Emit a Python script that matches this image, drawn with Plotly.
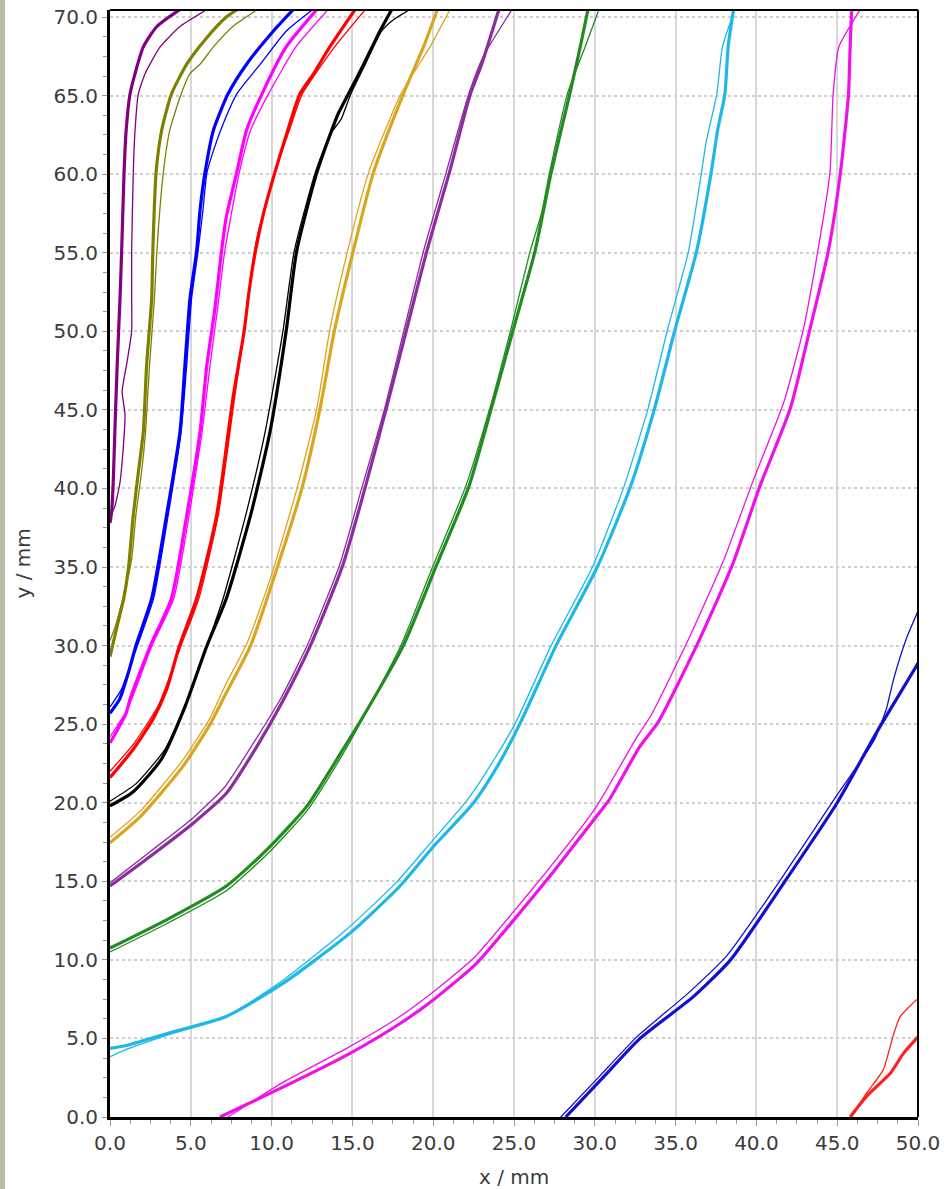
import plotly.graph_objects as go

# ---------------- data (x / mm, y / mm) ----------------
s1_thick_x = [0.0, 0.1, 0.2, 0.3, 0.45, 0.62, 0.72, 0.87, 1.0, 1.24, 1.55, 2.06, 2.9, 4.5]
s1_thick_y = [37.8, 38.5, 40.4, 43.6, 48.0, 52.1, 55.1, 60.1, 62.8, 65.1, 66.4, 68.1, 69.4, 70.6]
s1_thin_x = [0.0, 0.31, 0.62, 0.82, 0.93, 0.75, 1.03, 1.34, 1.34, 1.34, 1.44, 1.55, 1.75, 2.17, 3.1, 4.33, 6.2]
s1_thin_y = [38.2, 38.9, 40.4, 42.6, 44.7, 46.2, 47.9, 50.0, 52.1, 55.1, 60.1, 62.8, 65.1, 66.4, 68.1, 69.4, 70.6]

s2_thick_x = [0.0, 0.5, 0.85, 1.15, 1.44, 1.75, 2.06, 2.27, 2.58, 2.65, 2.85, 3.2, 3.8, 4.75, 6.0, 7.2, 8.05]
s2_thick_y = [29.3, 31.5, 33.0, 35.0, 38.3, 41.0, 43.6, 47.9, 52.1, 55.1, 60.1, 62.8, 65.1, 67.0, 68.7, 70.0, 70.6]
s2_thin_x = [0.0, 0.35, 0.8, 1.34, 1.6, 1.95, 2.2, 2.45, 2.75, 2.9, 3.3, 3.7, 4.4, 4.95, 5.57, 6.4, 7.6, 9.3]
s2_thin_y = [30.3, 31.3, 33.0, 35.5, 38.3, 41.0, 43.6, 47.9, 52.1, 55.1, 60.1, 62.8, 65.1, 66.4, 67.0, 68.1, 69.4, 70.6]

s3_thick_x = [0.0, 0.6, 1.2, 1.6, 2.58, 3.5, 4.33, 4.64, 4.95, 5.36, 5.57, 5.88, 6.4, 7.3, 8.45, 10.1, 11.45]
s3_thick_y = [25.7, 26.6, 28.5, 30.0, 33.0, 38.3, 43.6, 47.9, 52.1, 55.1, 57.7, 60.1, 62.8, 65.1, 67.0, 69.1, 70.6]
s3_thin_x = [0.0, 0.7, 1.7, 2.7, 3.6, 4.4, 4.75, 5.05, 5.45, 5.75, 6.0, 6.4, 7.0, 7.84, 9.3, 10.9, 12.7]
s3_thin_y = [26.1, 27.2, 30.0, 33.0, 38.3, 43.6, 47.9, 52.1, 55.1, 57.7, 60.1, 61.5, 63.2, 65.1, 67.0, 69.1, 70.6]

s4_thick_x = [0.0, 1.0, 1.24, 2.5, 3.8, 4.75, 5.57, 6.0, 6.5, 6.9, 7.2, 7.84, 8.45, 9.4, 10.9, 12.9]
s4_thick_y = [23.8, 25.7, 26.6, 30.0, 33.0, 38.3, 43.6, 47.9, 51.5, 55.1, 57.3, 60.1, 62.8, 65.1, 68.1, 70.6]
s4_thin_x = [0.0, 1.1, 2.6, 3.95, 4.9, 5.7, 6.2, 6.7, 7.1, 8.0, 8.7, 9.8, 11.5, 13.6]
s4_thin_y = [24.2, 26.0, 30.0, 33.0, 38.3, 43.6, 47.9, 51.8, 55.1, 60.1, 62.8, 65.1, 68.1, 70.6]

s5_thick_x = [0.0, 1.44, 2.7, 3.5, 4.3, 5.36, 6.6, 7.6, 8.3, 8.6, 9.0, 9.5, 10.2, 11.0, 11.75, 12.6, 13.6, 15.25]
s5_thick_y = [21.6, 23.4, 25.4, 27.2, 30.0, 33.0, 38.3, 45.7, 50.0, 52.5, 55.1, 57.5, 60.1, 62.8, 65.1, 66.4, 68.1, 70.6]
s5_thin_x = [0.0, 1.5, 3.0, 4.4, 5.5, 6.7, 7.7, 8.3, 8.7, 9.1, 10.2, 11.1, 11.9, 13.9, 15.9]
s5_thin_y = [22.0, 23.8, 26.2, 30.0, 33.0, 38.3, 45.7, 50.0, 53.5, 56.0, 60.1, 62.8, 65.1, 68.1, 70.6]

s6_thick_x = [0.0, 1.44, 3.2, 4.6, 6.0, 7.2, 8.7, 9.9, 10.9, 11.55, 12.8, 14.1, 14.75, 15.7, 16.7, 17.5]
s6_thick_y = [19.8, 20.7, 22.8, 26.0, 30.0, 33.0, 38.3, 43.6, 50.0, 55.1, 60.1, 63.8, 65.1, 67.0, 69.1, 70.6]
s6_thin_x = [0.0, 1.6, 3.4, 4.8, 6.1, 7.0, 8.4, 9.6, 10.7, 11.4, 12.7, 13.6, 14.3, 14.9, 15.8, 16.8, 17.5, 18.75]
s6_thin_y = [20.1, 21.2, 23.4, 26.6, 30.3, 33.0, 38.3, 43.6, 50.0, 55.1, 60.1, 62.5, 63.5, 65.1, 67.0, 69.1, 69.8, 70.6]

s7_thick_x = [0.0, 1.86, 4.5, 6.2, 7.2, 8.7, 10.2, 11.9, 13.0, 13.9, 15.05, 16.3, 18.15, 19.4, 20.3]
s7_thick_y = [17.45, 19.1, 22.3, 25.0, 27.0, 30.0, 34.5, 40.1, 45.1, 50.1, 55.1, 60.1, 65.1, 68.1, 70.6]
s7_thin_x = [0.0, 1.9, 4.5, 6.2, 7.1, 8.5, 10.0, 11.6, 12.8, 13.6, 14.7, 16.0, 18.0, 19.8, 21.1]
s7_thin_y = [17.8, 19.5, 22.7, 25.4, 27.4, 30.2, 34.5, 40.1, 45.1, 50.1, 55.1, 60.1, 65.1, 68.1, 70.6]

s8_thick_x = [0.0, 2.5, 5.15, 7.2, 9.1, 10.6, 12.4, 14.4, 15.8, 17.1, 18.35, 19.6, 21.0, 22.3, 23.0, 24.1]
s8_thick_y = [14.7, 16.6, 18.7, 20.6, 23.6, 26.3, 30.0, 35.1, 40.1, 45.1, 50.1, 55.1, 60.1, 65.1, 67.0, 70.6]
s8_thin_x = [0.0, 2.5, 5.1, 7.1, 9.0, 10.6, 12.2, 14.2, 15.6, 17.0, 18.2, 19.4, 20.8, 22.2, 23.1, 24.95]
s8_thin_y = [14.9, 16.9, 19.0, 21.0, 24.0, 26.7, 30.0, 35.1, 40.1, 45.1, 50.1, 55.1, 60.1, 65.1, 67.5, 70.6]

s9_thick_x = [0.0, 3.5, 7.2, 9.7, 12.2, 14.3, 15.5, 18.15, 20.2, 22.2, 23.6, 24.95, 26.3, 27.3, 28.45, 29.1, 29.6]
s9_thick_y = [10.75, 12.55, 14.7, 17.0, 19.8, 23.2, 25.2, 30.0, 35.1, 40.1, 45.1, 50.1, 55.1, 60.1, 65.1, 68.1, 70.6]
s9_thin_x = [0.0, 3.5, 7.2, 9.8, 12.2, 14.3, 15.4, 18.0, 20.0, 22.0, 23.5, 24.8, 26.0, 26.7, 27.2, 28.3, 29.4, 30.3]
s9_thin_y = [10.5, 12.3, 14.4, 16.8, 19.5, 22.9, 24.9, 30.0, 35.1, 40.1, 45.1, 50.1, 55.1, 57.5, 60.1, 65.1, 68.1, 70.6]

s10_thick_x = [0.0, 1.2, 3.5, 7.2, 10.7, 14.85, 17.95, 20.0, 22.5, 24.1, 25.4, 27.6, 30.2, 32.2, 33.7, 34.96, 36.3, 37.2, 37.6, 38.05, 38.25, 38.6]
s10_thick_y = [4.36, 4.6, 5.3, 6.4, 8.5, 11.7, 14.7, 17.2, 20.0, 22.55, 25.1, 30.0, 35.1, 40.1, 45.1, 50.1, 55.1, 60.1, 62.8, 65.1, 68.1, 70.6]
s10_thin_x = [0.0, 1.0, 3.5, 7.2, 10.7, 14.6, 17.7, 19.8, 22.2, 23.8, 25.1, 27.3, 29.9, 31.8, 33.3, 34.5, 35.8, 36.6, 36.9, 37.55, 37.9, 38.7]
s10_thin_y = [3.83, 4.3, 5.2, 6.4, 8.7, 11.9, 14.9, 17.4, 20.3, 22.8, 25.1, 30.0, 35.1, 40.1, 45.1, 50.1, 55.1, 60.1, 62.1, 65.1, 68.1, 70.6]

s11_thick_x = [6.8, 10.7, 14.85, 17.95, 20.0, 22.7, 25.2, 27.2, 30.0, 30.9, 32.8, 33.9, 36.3, 38.5, 40.2, 42.1, 43.3, 44.45, 45.2, 45.7, 45.8, 45.9]
s11_thick_y = [0.0, 1.9, 4.05, 5.95, 7.45, 9.8, 12.8, 15.3, 19.0, 20.2, 23.6, 25.1, 30.0, 35.1, 40.1, 45.1, 50.1, 55.1, 60.1, 65.1, 68.1, 70.6]
s11_thin_x = [7.3, 10.7, 14.7, 17.8, 19.8, 22.5, 25.0, 27.0, 29.8, 30.6, 32.5, 33.5, 35.8, 38.0, 39.8, 41.7, 42.9, 43.8, 44.55, 44.75, 45.1, 46.5]
s11_thin_y = [0.0, 2.2, 4.4, 6.3, 7.8, 10.1, 13.1, 15.6, 19.3, 20.6, 24.0, 25.6, 30.4, 35.5, 40.5, 45.5, 50.1, 55.1, 60.1, 65.1, 68.1, 70.6]

s12_thick_x = [28.2, 30.5, 32.8, 36.1, 38.4, 41.7, 45.0, 47.45, 49.9, 50.0]
s12_thick_y = [0.0, 2.5, 5.0, 7.66, 10.0, 14.9, 20.0, 24.5, 28.7, 28.9]
s12_thin_x = [27.9, 30.3, 32.6, 35.8, 38.2, 41.5, 44.8, 47.3, 48.05, 48.5, 49.3, 50.0]
s12_thin_y = [0.0, 2.6, 5.1, 7.9, 10.3, 15.1, 20.2, 24.0, 26.0, 27.9, 30.5, 32.2]

s13_thick_x = [45.8, 46.8, 48.3, 49.1, 50.0]
s13_thick_y = [0.0, 1.3, 2.8, 4.05, 5.1]
s13_thin_x = [45.9, 46.8, 47.85, 48.5, 48.9, 49.9, 50.0]
s13_thin_y = [0.0, 1.5, 3.0, 5.3, 6.4, 7.45, 7.5]

x_ticks = [0, 5, 10, 15, 20, 25, 30, 35, 40, 45, 50]
x_tick_labels = ["0.0", "5.0", "10.0", "15.0", "20.0", "25.0", "30.0", "35.0", "40.0", "45.0", "50.0"]
y_ticks = [0, 5, 10, 15, 20, 25, 30, 35, 40, 45, 50, 55, 60, 65, 70]
y_tick_labels = ["0.0", "5.0", "10.0", "15.0", "20.0", "25.0", "30.0", "35.0", "40.0", "45.0",
                 "50.0", "55.0", "60.0", "65.0", "70.0"]

series = [
    ("#800080", s1_thick_x, s1_thick_y, s1_thin_x, s1_thin_y),
    ("#808000", s2_thick_x, s2_thick_y, s2_thin_x, s2_thin_y),
    ("#0000FF", s3_thick_x, s3_thick_y, s3_thin_x, s3_thin_y),
    ("#FF00FF", s4_thick_x, s4_thick_y, s4_thin_x, s4_thin_y),
    ("#FF0000", s5_thick_x, s5_thick_y, s5_thin_x, s5_thin_y),
    ("#000000", s6_thick_x, s6_thick_y, s6_thin_x, s6_thin_y),
    ("#DAA520", s7_thick_x, s7_thick_y, s7_thin_x, s7_thin_y),
    ("#8B2D9E", s8_thick_x, s8_thick_y, s8_thin_x, s8_thin_y),
    ("#228B22", s9_thick_x, s9_thick_y, s9_thin_x, s9_thin_y),
    ("#1EB8E8", s10_thick_x, s10_thick_y, s10_thin_x, s10_thin_y),
    ("#F010E8", s11_thick_x, s11_thick_y, s11_thin_x, s11_thin_y),
    ("#1010D0", s12_thick_x, s12_thick_y, s12_thin_x, s12_thin_y),
    ("#FF2020", s13_thick_x, s13_thick_y, s13_thin_x, s13_thin_y),
]

fig = go.Figure()
for color, tx, ty, nx, ny in series:
    fig.add_trace(go.Scatter(x=tx, y=ty, mode="lines",
                             line=dict(color=color, width=3.2, shape="spline", smoothing=0.6),
                             showlegend=False, hoverinfo="skip"))
    fig.add_trace(go.Scatter(x=nx, y=ny, mode="lines",
                             line=dict(color=color, width=1.3, shape="spline", smoothing=0.5),
                             showlegend=False, hoverinfo="skip"))

tick_font = dict(family="DejaVu Sans", size=20, color="#3c3c3c")

fig.update_layout(
    width=944, height=1189,
    margin=dict(l=110, r=26, t=10, b=72, autoexpand=False),
    paper_bgcolor="white", plot_bgcolor="white",
    showlegend=False,
    xaxis=dict(range=[0, 50], tickvals=x_ticks, ticktext=x_tick_labels, automargin=False,
               showgrid=True, gridcolor="#d8d8d8", gridwidth=1.5,
               zeroline=False, showline=True, linecolor="black", linewidth=3,
               ticks="outside", ticklen=6, tickcolor="#9a9a9a", tickwidth=1,
               minor=dict(dtick=1.25, tick0=0, ticks="outside", ticklen=4,
                          tickcolor="#9a9a9a", showgrid=False),
               tickfont=tick_font, fixedrange=True),
    yaxis=dict(range=[0, 70.45], tickvals=y_ticks, ticktext=y_tick_labels, automargin=False,
               showgrid=True, gridcolor="#cfcfcf", gridwidth=1.5, griddash="dot",
               zeroline=False, showline=True, linecolor="black", linewidth=3,
               ticks="outside", ticklen=5, tickcolor="#9a9a9a", tickwidth=1,
               minor=dict(dtick=1.25, tick0=0, ticks="outside", ticklen=4,
                          tickcolor="#9a9a9a", showgrid=False),
               tickfont=tick_font, fixedrange=True),
    shapes=[
        dict(type="line", xref="paper", yref="paper", x0=0, x1=1, y0=1, y1=1,
             line=dict(color="black", width=2)),
        dict(type="line", xref="paper", yref="paper", x0=1, x1=1, y0=0, y1=1,
             line=dict(color="black", width=2)),
        dict(type="rect", xref="paper", yref="paper", x0=-110 / 808, x1=-105 / 808,
             y0=-72 / 1107, y1=1 + 10 / 1107, line=dict(width=0), fillcolor="#b8bea8"),
    ],
    annotations=[
        dict(text="x / mm", xref="paper", yref="paper", x=0.5, y=-60 / 1107,
             xanchor="center", yanchor="middle", showarrow=False, font=tick_font),
        dict(text="y / mm", xref="paper", yref="paper", x=-88 / 808, y=0.5,
             xanchor="center", yanchor="middle", showarrow=False, textangle=-90, font=tick_font),
    ],
)

fig.write_html(
    "out.html",
    config={"displayModeBar": False},
    post_script="document.body.style.margin='0';document.body.style.padding='0';"
                "document.body.style.overflow='hidden';",
)
